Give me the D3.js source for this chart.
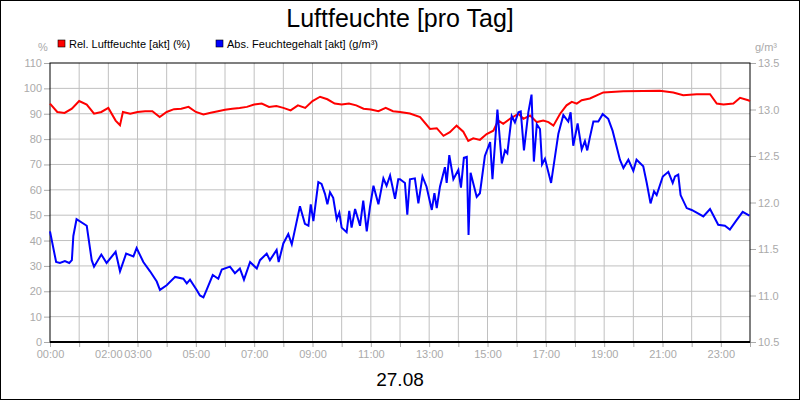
<!DOCTYPE html>
<html><head><meta charset="utf-8">
<script src="https://cdn.jsdelivr.net/npm/d3@7"></script>
<style>body{margin:0;background:#fff}svg{display:block;font-family:"Liberation Sans",Arial,sans-serif}</style>
</head><body><svg id="c" width="800" height="400"></svg>
<script>
const title = "Luftfeuchte [pro Tag]";
const dateLabel = "27.08";
const seriesNames = ["Rel. Luftfeuchte [akt] (%)", "Abs. Feuchtegehalt [akt] (g/m³)"];
const xTickHours = [0,2,3,5,7,9,11,13,15,17,19,21,23];
const leftTicks = [0,10,20,30,40,50,60,70,80,90,100,110];
const rightTicks = [10.5,11.0,11.5,12.0,12.5,13.0,13.5];
// [hour, %]
const relHumidity = [[0,94],[0.25,90.7],[0.5,90.3],[0.75,92],[1,95],[1.26,93.6],[1.51,90],[1.76,90.7],[2,92.3],[2.25,87.3],[2.4,85.5],[2.5,90.7],[2.75,90],[3,90.7],[3.26,91],[3.51,91],[3.76,88.7],[4,90.7],[4.25,91.8],[4.5,92],[4.75,92.7],[5,90.7],[5.26,89.7],[5.51,90.4],[5.76,91],[6,91.6],[6.25,92],[6.5,92.3],[6.75,92.7],[7,93.6],[7.26,94],[7.51,92.7],[7.76,93],[8,92.3],[8.25,91.3],[8.5,93.3],[8.75,92.3],[9,95],[9.26,96.7],[9.51,95.7],[9.76,94],[10,93.6],[10.25,94],[10.5,93.3],[10.75,92],[11,91.7],[11.26,91],[11.51,92.3],[11.76,91],[12,90.7],[12.34,90.1],[12.69,88.7],[13.03,84],[13.26,84.3],[13.49,81.3],[13.71,82.7],[13.94,85.3],[14.17,82.9],[14.34,79.3],[14.51,80.3],[14.74,79.7],[14.97,82],[15.2,83.3],[15.37,87.3],[15.54,86],[15.77,88],[16.06,90],[16.23,88],[16.46,89.3],[16.69,86.7],[16.91,87.3],[17.09,86.7],[17.26,85.3],[17.49,90],[17.71,93.3],[17.89,94.7],[18.06,94],[18.23,95.3],[18.51,96],[18.97,98.4],[19.66,98.9],[20.34,99],[20.91,99.1],[21.37,98.4],[21.71,97.3],[22.17,97.7],[22.63,97.7],[22.86,94],[23.09,93.6],[23.43,94],[23.66,96.3],[23.94,95.3],[24,95]];
// [hour, g/m³]
const absHumidity = [[0,11.69],[0.21,11.36],[0.34,11.35],[0.51,11.37],[0.66,11.35],[0.75,11.38],[0.8,11.64],[0.91,11.82],[1.26,11.75],[1.43,11.38],[1.51,11.31],[1.76,11.44],[1.94,11.35],[2.25,11.47],[2.4,11.26],[2.61,11.45],[2.86,11.42],[2.97,11.51],[3.2,11.36],[3.43,11.26],[3.66,11.15],[3.77,11.06],[4.0,11.11],[4.29,11.2],[4.57,11.18],[4.69,11.13],[4.8,11.17],[5.03,11.06],[5.14,11.0],[5.26,10.98],[5.37,11.06],[5.58,11.22],[5.77,11.18],[5.89,11.28],[6.17,11.31],[6.34,11.24],[6.51,11.29],[6.65,11.17],[6.86,11.36],[7.09,11.29],[7.2,11.38],[7.43,11.45],[7.54,11.38],[7.77,11.49],[7.84,11.36],[8.0,11.56],[8.17,11.66],[8.29,11.55],[8.57,11.96],[8.74,11.77],[8.86,11.75],[8.94,11.98],[9.03,11.8],[9.2,12.22],[9.31,12.2],[9.43,12.09],[9.51,11.98],[9.6,12.11],[9.71,12.05],[9.83,11.82],[9.92,11.89],[10.0,11.73],[10.17,11.68],[10.26,11.91],[10.34,11.73],[10.46,11.93],[10.63,11.75],[10.74,12.02],[10.86,11.69],[10.97,11.95],[11.09,12.18],[11.26,11.98],[11.43,12.26],[11.54,12.18],[11.66,12.29],[11.83,12.04],[11.94,12.25],[12.0,12.25],[12.17,12.21],[12.25,11.87],[12.34,12.25],[12.51,12.26],[12.63,11.99],[12.77,12.28],[12.91,12.17],[13.09,11.92],[13.18,12.1],[13.26,11.94],[13.37,12.17],[13.54,12.38],[13.6,12.21],[13.69,12.51],[13.83,12.25],[14.0,12.35],[14.09,12.16],[14.19,12.48],[14.29,12.49],[14.35,11.65],[14.42,12.32],[14.63,12.06],[14.74,12.1],[14.91,12.5],[15.09,12.65],[15.17,12.25],[15.34,13.0],[15.49,12.42],[15.6,12.56],[15.68,12.53],[15.83,12.93],[15.94,12.86],[16.06,12.97],[16.14,12.98],[16.25,12.56],[16.4,12.97],[16.51,13.16],[16.59,12.44],[16.69,12.84],[16.8,12.79],[16.87,12.41],[16.97,12.47],[17.18,12.21],[17.43,12.74],[17.6,12.94],[17.77,12.87],[17.85,12.97],[17.94,12.61],[18.09,12.85],[18.23,12.57],[18.34,12.66],[18.42,12.56],[18.51,12.7],[18.63,12.87],[18.8,12.87],[18.95,12.95],[19.14,12.9],[19.29,12.77],[19.54,12.46],[19.66,12.37],[19.83,12.46],[20.0,12.34],[20.11,12.46],[20.34,12.39],[20.46,12.21],[20.59,11.99],[20.71,12.12],[20.8,12.08],[21.01,12.28],[21.2,12.33],[21.35,12.21],[21.43,12.28],[21.54,12.3],[21.62,12.08],[21.83,11.94],[22.0,11.92],[22.17,11.89],[22.4,11.85],[22.63,11.93],[22.91,11.76],[23.14,11.75],[23.31,11.71],[23.54,11.81],[23.75,11.9],[23.98,11.86]];

const svg = d3.select("#c");
const L=50,R=750,T=63,B=342;
const x = d3.scaleLinear().domain([0,24]).range([L,R]);
const yL = d3.scaleLinear().domain([0,110]).range([B,T]);
const yR = d3.scaleLinear().domain([10.5,13.5]).range([B,T]);
const grey="#aaaaaa";

svg.append("rect").attr("x",0.5).attr("y",0.5).attr("width",799).attr("height",399).attr("fill","#fff").attr("stroke","#000");
svg.append("text").attr("x",400).attr("y",27).attr("text-anchor","middle").attr("font-size",25).text(title);
svg.append("text").attr("x",400).attr("y",386).attr("text-anchor","middle").attr("font-size",19).text(dateLabel);

// grid
const g = svg.append("g");
g.selectAll(".vg").data(d3.range(1,24)).join("line").attr("x1",d=>x(d)).attr("x2",d=>x(d)).attr("y1",T).attr("y2",B).attr("stroke","#c0c0c0");
g.selectAll(".hg").data(leftTicks.slice(1,-1)).join("line").attr("x1",L).attr("x2",R).attr("y1",d=>yL(d)).attr("y2",d=>yL(d)).attr("stroke","#c0c0c0");

// axes
const axL = svg.append("g").attr("transform",`translate(${L},0)`).call(d3.axisLeft(yL).tickValues(leftTicks).tickSize(6).tickPadding(2));
const axR = svg.append("g").attr("transform",`translate(${R},0)`).call(d3.axisRight(yR).tickValues(rightTicks).tickFormat(d3.format(".1f")).tickSize(6).tickPadding(2));
const axB = svg.append("g").attr("transform",`translate(0,${B})`).call(d3.axisBottom(x).tickValues(d3.range(0,25)).tickSize(5).tickPadding(3)
  .tickFormat(d=>xTickHours.includes(d)?String(d).padStart(2,"0")+":00":""));
[axL,axR,axB].forEach(a=>{a.selectAll("text").attr("fill",grey).attr("font-size",11);a.selectAll(".tick line").attr("stroke",grey);a.select(".domain").remove();a.attr("font-family",null);});
svg.append("rect").attr("x",L).attr("y",T).attr("width",R-L).attr("height",B-T).attr("fill","none").attr("stroke","#000");
svg.append("line").attr("x1",L).attr("x2",R).attr("y1",B).attr("y2",B).attr("stroke","#000").attr("stroke-width",2);

svg.append("text").attr("x",43).attr("y",51).attr("text-anchor","middle").attr("fill",grey).attr("font-size",11).text("%");
svg.append("text").attr("x",766).attr("y",51).attr("text-anchor","middle").attr("fill",grey).attr("font-size",11).text("g/m³");

// legend
const colors=["#ff0000","#0000ff"];
const lgX=[58,216];
seriesNames.forEach((n,i)=>{
  svg.append("rect").attr("x",lgX[i]).attr("y",40).attr("width",7).attr("height",7).attr("fill",colors[i]).attr("stroke","#000").attr("stroke-width",0.6);
  svg.append("text").attr("x",lgX[i]+11).attr("y",47.5).attr("font-size",11).text(n);
});

// lines
svg.append("path").datum(relHumidity).attr("fill","none").attr("stroke",colors[0]).attr("stroke-width",2)
  .attr("d",d3.line().x(d=>x(d[0])).y(d=>yL(d[1])));
svg.append("path").datum(absHumidity).attr("fill","none").attr("stroke",colors[1]).attr("stroke-width",2)
  .attr("d",d3.line().x(d=>x(d[0])).y(d=>yR(d[1])));
</script></body></html>
